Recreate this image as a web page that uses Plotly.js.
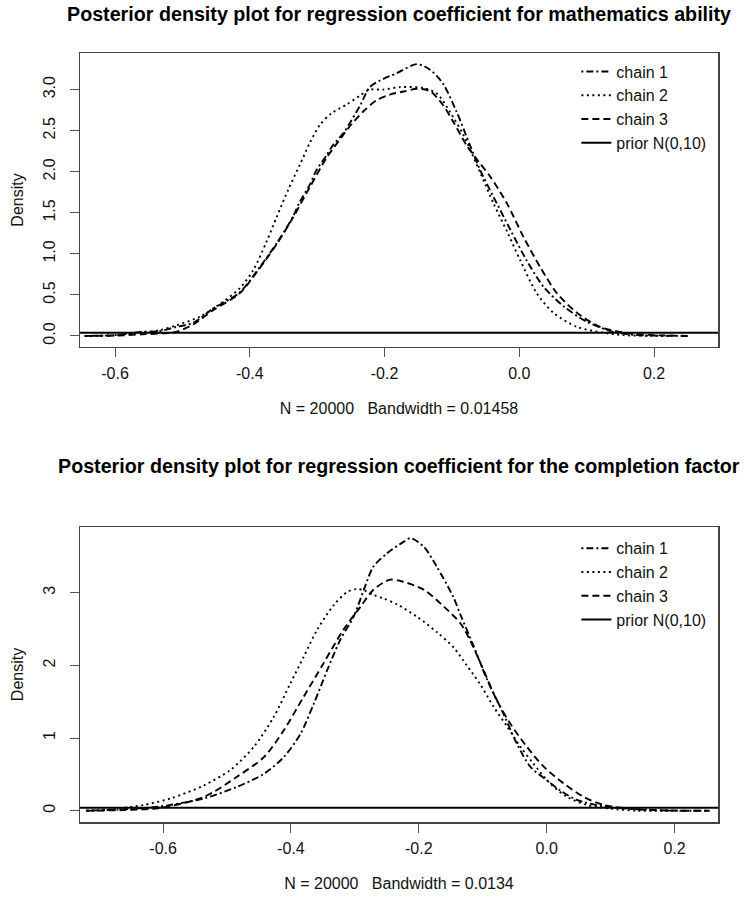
<!DOCTYPE html>
<html>
<head>
<meta charset="utf-8">
<script src="https://cdn.plot.ly/plotly-3.0.1.min.js"></script>
<style>html,body{margin:0;padding:0;background:#fff;}#chart{width:744px;height:904px;}</style>
</head>
<body>
<div id="chart"></div>
<script>
// ---------- Top panel: mathematics ability ----------
const mathChain1X = [-0.645,-0.6,-0.56,-0.534,-0.509,-0.484,-0.455,-0.415,-0.385,-0.360,-0.336,-0.326,-0.311,-0.301,-0.286,-0.276,-0.261,-0.251,-0.236,-0.222,-0.207,-0.182,-0.152,-0.132,-0.113,-0.093,-0.073,-0.058,-0.038,-0.013,0.011,0.036,0.066,0.101,0.140,0.175,0.22,0.25];
const mathChain1Y = [0.0,0.01,0.05,0.06,0.11,0.16,0.33,0.53,0.84,1.13,1.45,1.63,1.84,2.02,2.20,2.33,2.47,2.60,2.81,3.03,3.11,3.20,3.31,3.24,3.07,2.73,2.32,2.02,1.69,1.29,0.92,0.60,0.36,0.17,0.05,0.01,0.003,0.0];
const mathChain2X = [-0.645,-0.6,-0.56,-0.534,-0.509,-0.474,-0.450,-0.415,-0.395,-0.375,-0.360,-0.343,-0.326,-0.311,-0.296,-0.279,-0.256,-0.236,-0.222,-0.202,-0.177,-0.142,-0.122,-0.103,-0.083,-0.058,-0.038,-0.018,0.0015,0.026,0.051,0.086,0.125,0.155,0.19,0.225];
const mathChain2Y = [0.0,0.01,0.04,0.07,0.13,0.235,0.357,0.58,0.80,1.15,1.45,1.78,2.08,2.35,2.57,2.71,2.82,2.93,3.0,3.0,3.03,3.02,2.95,2.73,2.45,1.99,1.61,1.27,0.92,0.52,0.28,0.11,0.04,0.01,0.003,0.0];
const mathChain3X = [-0.645,-0.6,-0.56,-0.534,-0.509,-0.484,-0.455,-0.415,-0.385,-0.360,-0.336,-0.311,-0.286,-0.261,-0.251,-0.232,-0.212,-0.192,-0.17,-0.152,-0.132,-0.113,-0.098,-0.078,-0.060,-0.043,-0.018,0.006,0.031,0.056,0.086,0.120,0.165,0.2,0.254];
const mathChain3Y = [0.0,0.005,0.02,0.03,0.05,0.14,0.31,0.52,0.83,1.12,1.44,1.81,2.17,2.45,2.56,2.73,2.87,2.94,2.98,3.01,2.98,2.81,2.61,2.32,2.12,1.94,1.61,1.21,0.84,0.52,0.28,0.11,0.03,0.01,0.0];

// ---------- Bottom panel: completion factor ----------
const compChain1X = [-0.72,-0.66,-0.604,-0.536,-0.484,-0.442,-0.411,-0.385,-0.364,-0.343,-0.323,-0.302,-0.286,-0.271,-0.250,-0.224,-0.213,-0.192,-0.172,-0.146,-0.135,-0.114,-0.093,-0.068,-0.047,-0.026,0.000,0.021,0.047,0.089,0.141,0.2,0.25];
const compChain1Y = [0.0,0.02,0.06,0.17,0.33,0.51,0.74,1.06,1.48,1.94,2.35,2.67,3.04,3.36,3.54,3.70,3.75,3.63,3.36,2.94,2.70,2.26,1.80,1.34,0.93,0.61,0.42,0.28,0.15,0.06,0.02,0.0,0.0];
const compChain2X = [-0.72,-0.68,-0.630,-0.588,-0.536,-0.495,-0.458,-0.427,-0.401,-0.380,-0.359,-0.333,-0.312,-0.297,-0.285,-0.271,-0.255,-0.234,-0.203,-0.172,-0.146,-0.125,-0.104,-0.083,-0.062,-0.041,-0.021,0.005,0.032,0.063,0.099,0.141,0.2];
const compChain2Y = [0.0,0.02,0.08,0.17,0.35,0.56,0.88,1.29,1.75,2.12,2.49,2.83,3.01,3.05,3.03,2.97,2.92,2.84,2.67,2.46,2.25,2.0,1.74,1.43,1.16,0.88,0.65,0.38,0.19,0.08,0.03,0.0,0.0];
const compChain3X = [-0.72,-0.66,-0.604,-0.536,-0.484,-0.442,-0.411,-0.380,-0.349,-0.318,-0.291,-0.271,-0.245,-0.224,-0.192,-0.161,-0.135,-0.120,-0.099,-0.078,-0.057,-0.031,-0.005,0.026,0.058,0.089,0.141,0.2,0.255];
const compChain3Y = [0.0,0.01,0.04,0.19,0.47,0.74,1.11,1.57,2.03,2.49,2.81,3.04,3.18,3.15,3.04,2.81,2.58,2.35,1.94,1.52,1.20,0.88,0.61,0.38,0.19,0.08,0.02,0.003,0.0];

// prior N(0,10): practically flat over this range
const priorX = [-0.8, 0.35];
const priorY = [0.0399, 0.0399];

// ---------- labels ----------
const seriesNames = ["chain 1", "chain 2", "chain 3", "prior N(0,10)"];
const titles = ["Posterior density plot for regression coefficient for mathematics ability",
                "Posterior density plot for regression coefficient for the completion factor"];
const xLabels = ["N = 20000\u00a0\u00a0 Bandwidth = 0.01458", "N = 20000\u00a0\u00a0 Bandwidth = 0.0134"];
const yLabel = "Density";
const xTickVals = [-0.6, -0.4, -0.2, 0.0, 0.2];
const xTickText = ["-0.6", "-0.4", "-0.2", "0.0", "0.2"];
const yTickValsTop = [0, 0.5, 1, 1.5, 2, 2.5, 3];
const yTickTextTop = ["0.0", "0.5", "1.0", "1.5", "2.0", "2.5", "3.0"];
const yTickValsBot = [0, 1, 2, 3];
const yTickTextBot = ["0", "1", "2", "3"];

const FONT = "Liberation Sans, Arial, Helvetica, sans-serif";
const dashes = ["2px,3px,7px,3px", "2px,3.5px", "7px,4px", "solid"];

function mk(x, y, i, xa, ya, lg) {
  return {
    x: x, y: y, type: "scatter", mode: "lines",
    name: seriesNames[i], xaxis: xa, yaxis: ya, legend: lg,
    line: {color: "#000", width: i === 3 ? 2 : 1.9, dash: dashes[i], shape: i === 3 ? "linear" : "spline", smoothing: 0.8},
    hoverinfo: "skip"
  };
}

const data = [
  mk(mathChain1X, mathChain1Y, 0, "x", "y", "legend"),
  mk(mathChain2X, mathChain2Y, 1, "x", "y", "legend"),
  mk(mathChain3X, mathChain3Y, 2, "x", "y", "legend"),
  mk(priorX, priorY, 3, "x", "y", "legend"),
  mk(compChain1X, compChain1Y, 0, "x2", "y2", "legend2"),
  mk(compChain2X, compChain2Y, 1, "x2", "y2", "legend2"),
  mk(compChain3X, compChain3Y, 2, "x2", "y2", "legend2"),
  mk(priorX, priorY, 3, "x2", "y2", "legend2")
];

function xax(range, anchor, label) {
  return {
    anchor: anchor, domain: [0, 1], range: range,
    tickvals: xTickVals, ticktext: xTickText,
    ticks: "outside", ticklen: 9, tickcolor: "#555", tickwidth: 1,
    ticklabelstandoff: 2,
    tickfont: {family: FONT, size: 16, color: "#111"},
    showline: true, mirror: true, linecolor: "#444", linewidth: 1.5,
    showgrid: false, zeroline: false, fixedrange: true,
    title: {text: label, font: {family: FONT, size: 16, color: "#111"}, standoff: 22}
  };
}
function yax(range, anchor, domain, tv, tt) {
  return {
    anchor: anchor, domain: domain, range: range,
    tickvals: tv, ticktext: tt, tickangle: -90,
    ticks: "outside", ticklen: 9, tickcolor: "#555", tickwidth: 1,
    ticklabelstandoff: 8,
    tickfont: {family: FONT, size: 16, color: "#111"},
    showline: true, mirror: true, linecolor: "#444", linewidth: 1.5,
    showgrid: false, zeroline: false, fixedrange: true,
    title: {text: yLabel, font: {family: FONT, size: 16, color: "#111"}, standoff: 13}
  };
}

const legendBase = {
  xanchor: "left", yanchor: "top", bgcolor: "rgba(0,0,0,0)", borderwidth: 0,
  font: {family: FONT, size: 16, color: "#111"}, itemwidth: 30, tracegroupgap: 0
};

const layout = {
  width: 744, height: 904,
  margin: {l: 80, r: 26, t: 53, b: 82},
  paper_bgcolor: "#fff", plot_bgcolor: "#fff",
  font: {family: FONT, color: "#111"},
  xaxis: xax([-0.652, 0.295], "y", xLabels[0]),
  yaxis: yax([-0.134, 3.446], "x", [0.6177, 1], yTickValsTop, yTickTextTop),
  xaxis2: xax([-0.730, 0.268], "y2", xLabels[1]),
  yaxis2: yax([-0.155, 3.904], "x2", [0, 0.3836], yTickValsBot, yTickTextBot),
  legend: Object.assign({x: 0.778, y: 0.998}, legendBase),
  legend2: Object.assign({x: 0.778, y: 0.378}, legendBase),
  showlegend: true,
  annotations: [
    {text: "<b>" + titles[0] + "</b>", xref: "paper", yref: "paper", x: 0.5, y: 1.0506, xanchor: "center", yanchor: "middle", showarrow: false, font: {family: FONT, size: 19.7, color: "#000"}},
    {text: "<b>" + titles[1] + "</b>", xref: "paper", yref: "paper", x: 0.5, y: 0.463, xanchor: "center", yanchor: "middle", showarrow: false, font: {family: FONT, size: 19.7, color: "#000"}}
  ]
};

Plotly.newPlot("chart", data, layout, {displayModeBar: false, staticPlot: true});
</script>
</body>
</html>
